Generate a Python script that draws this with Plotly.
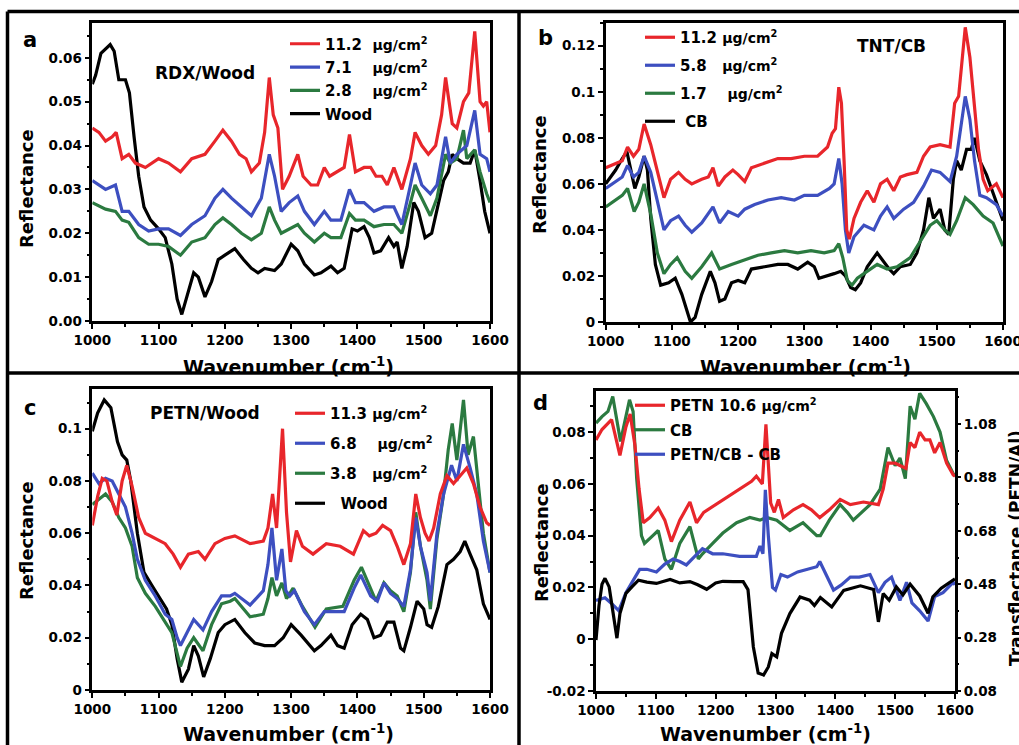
import plotly.graph_objects as go

W, H = 1019, 745

# ---------------- Panel a : RDX/Wood ----------------
a_red_x = [1000,1010,1020,1030,1036,1045,1055,1065,1080,1100,1115,1133,1150,1170,1185,1197,1210,1222,1232,1240,1252,1260,1267,1273,1280,1287,1297,1310,1318,1330,1340,1350,1358,1370,1380,1388,1397,1410,1420,1428,1437,1445,1455,1467,1480,1487,1497,1507,1518,1527,1533,1543,1550,1560,1568,1577,1585,1590,1595,1600]
a_red_y = [0.044,0.043,0.041,0.042,0.043,0.037,0.038,0.036,0.035,0.037,0.036,0.034,0.037,0.038,0.041,0.0435,0.041,0.038,0.037,0.034,0.036,0.043,0.0555,0.047,0.044,0.030,0.033,0.038,0.033,0.031,0.031,0.035,0.033,0.034,0.035,0.0425,0.034,0.035,0.035,0.033,0.033,0.031,0.035,0.030,0.037,0.043,0.040,0.038,0.040,0.047,0.0555,0.045,0.044,0.050,0.052,0.066,0.050,0.049,0.050,0.043]
a_blue_x = [1000,1020,1035,1045,1055,1070,1085,1100,1115,1133,1150,1170,1185,1197,1210,1225,1240,1255,1267,1275,1285,1297,1310,1320,1335,1350,1360,1375,1388,1397,1410,1425,1440,1455,1467,1480,1487,1497,1510,1520,1533,1540,1550,1565,1577,1585,1595,1600]
a_blue_y = [0.032,0.030,0.031,0.025,0.025,0.022,0.0205,0.021,0.021,0.0195,0.022,0.024,0.028,0.030,0.028,0.026,0.024,0.028,0.038,0.033,0.025,0.027,0.0285,0.025,0.022,0.025,0.023,0.023,0.030,0.027,0.027,0.025,0.026,0.026,0.022,0.031,0.036,0.031,0.029,0.031,0.042,0.036,0.038,0.040,0.048,0.038,0.037,0.034]
a_green_x = [1000,1020,1035,1045,1055,1070,1085,1100,1115,1133,1150,1170,1185,1197,1210,1225,1240,1255,1267,1275,1285,1297,1310,1320,1335,1350,1360,1375,1388,1397,1410,1425,1440,1455,1467,1480,1487,1497,1510,1520,1533,1540,1550,1560,1565,1577,1585,1595,1600]
a_green_y = [0.027,0.0255,0.025,0.023,0.0225,0.019,0.0175,0.0175,0.017,0.015,0.018,0.019,0.022,0.0235,0.022,0.020,0.0185,0.020,0.026,0.023,0.020,0.021,0.022,0.020,0.018,0.020,0.019,0.019,0.0245,0.023,0.023,0.0215,0.022,0.022,0.020,0.027,0.031,0.028,0.024,0.028,0.038,0.036,0.037,0.0435,0.037,0.039,0.034,0.029,0.027]
a_black_x = [1000,1005,1013,1020,1027,1033,1040,1050,1056,1063,1070,1078,1088,1100,1110,1120,1128,1135,1142,1153,1160,1170,1180,1190,1200,1215,1228,1240,1250,1260,1275,1285,1300,1310,1320,1335,1345,1360,1370,1380,1392,1400,1410,1418,1425,1435,1447,1455,1460,1467,1475,1485,1492,1502,1512,1520,1530,1537,1543,1550,1560,1570,1577,1585,1592,1600]
a_black_y = [0.054,0.056,0.061,0.062,0.063,0.0615,0.055,0.055,0.052,0.042,0.033,0.026,0.023,0.021,0.019,0.013,0.005,0.0015,0.005,0.011,0.010,0.0055,0.009,0.014,0.015,0.0165,0.014,0.012,0.011,0.012,0.0115,0.013,0.0175,0.016,0.013,0.0105,0.011,0.0125,0.011,0.012,0.021,0.0205,0.0215,0.019,0.0155,0.016,0.019,0.017,0.018,0.012,0.017,0.027,0.025,0.019,0.020,0.025,0.032,0.034,0.038,0.037,0.036,0.036,0.039,0.032,0.025,0.020]

# ---------------- Panel b : TNT/CB ----------------
b_red_x = [1000,1015,1025,1033,1042,1050,1058,1068,1078,1088,1098,1110,1120,1130,1145,1155,1162,1170,1180,1192,1200,1210,1220,1240,1260,1280,1300,1320,1335,1342,1347,1352,1356,1360,1364,1368,1375,1385,1395,1405,1415,1425,1435,1445,1455,1470,1480,1490,1505,1520,1527,1533,1537,1543,1550,1557,1563,1570,1577,1590,1600]
b_red_y = [0.067,0.069,0.070,0.076,0.072,0.075,0.086,0.077,0.065,0.054,0.062,0.065,0.062,0.060,0.062,0.063,0.067,0.059,0.063,0.066,0.064,0.061,0.067,0.069,0.071,0.071,0.072,0.072,0.076,0.082,0.084,0.102,0.095,0.070,0.040,0.036,0.045,0.052,0.057,0.052,0.060,0.062,0.057,0.063,0.064,0.065,0.072,0.076,0.077,0.076,0.095,0.098,0.110,0.128,0.115,0.095,0.075,0.062,0.057,0.060,0.054]
b_blue_x = [1000,1015,1025,1033,1042,1050,1058,1068,1078,1088,1098,1110,1120,1130,1145,1162,1172,1185,1200,1210,1225,1245,1265,1285,1300,1320,1338,1345,1352,1357,1362,1367,1375,1390,1405,1415,1425,1435,1450,1465,1480,1492,1505,1520,1530,1537,1543,1550,1557,1565,1575,1590,1600]
b_blue_y = [0.058,0.061,0.063,0.068,0.063,0.065,0.072,0.065,0.052,0.040,0.044,0.046,0.042,0.039,0.043,0.050,0.043,0.048,0.046,0.049,0.051,0.053,0.054,0.053,0.055,0.055,0.058,0.060,0.071,0.060,0.040,0.030,0.037,0.042,0.040,0.046,0.050,0.045,0.049,0.052,0.059,0.066,0.065,0.061,0.072,0.085,0.098,0.088,0.070,0.055,0.054,0.051,0.046]
b_green_x = [1000,1015,1025,1033,1043,1050,1058,1068,1078,1088,1098,1108,1120,1130,1145,1160,1172,1190,1210,1230,1250,1270,1290,1310,1330,1345,1352,1358,1365,1372,1380,1395,1410,1425,1440,1460,1475,1490,1500,1512,1520,1530,1543,1555,1570,1585,1600]
b_green_y = [0.050,0.053,0.055,0.058,0.048,0.052,0.060,0.047,0.030,0.021,0.025,0.028,0.022,0.019,0.024,0.030,0.023,0.025,0.027,0.029,0.030,0.031,0.030,0.031,0.030,0.031,0.034,0.028,0.018,0.016,0.019,0.022,0.025,0.023,0.024,0.028,0.035,0.042,0.044,0.040,0.038,0.044,0.054,0.051,0.046,0.043,0.033]
b_black_x = [1000,1015,1025,1032,1038,1044,1050,1058,1063,1068,1075,1083,1095,1105,1115,1122,1128,1135,1145,1158,1165,1172,1180,1190,1200,1210,1220,1240,1260,1275,1290,1305,1315,1322,1335,1345,1355,1362,1370,1377,1385,1395,1410,1418,1428,1435,1445,1460,1470,1480,1488,1495,1505,1512,1518,1525,1530,1537,1545,1552,1557,1565,1575,1585,1595,1600]
b_black_y = [0.060,0.066,0.071,0.074,0.066,0.058,0.063,0.072,0.066,0.045,0.025,0.016,0.017,0.019,0.012,0.005,0.000,0.002,0.012,0.022,0.017,0.009,0.010,0.017,0.018,0.017,0.023,0.024,0.025,0.025,0.023,0.026,0.024,0.019,0.020,0.021,0.022,0.020,0.015,0.014,0.017,0.024,0.030,0.027,0.023,0.021,0.024,0.025,0.030,0.040,0.054,0.045,0.049,0.040,0.038,0.062,0.070,0.066,0.075,0.075,0.080,0.070,0.064,0.056,0.048,0.044]

# ---------------- Panel c : PETN/Wood ----------------
c_red_x = [1000,1008,1015,1022,1030,1037,1045,1052,1060,1070,1080,1095,1110,1122,1133,1145,1160,1170,1185,1200,1215,1238,1258,1265,1272,1278,1287,1293,1299,1308,1317,1333,1353,1374,1394,1409,1418,1428,1438,1450,1460,1470,1480,1488,1495,1502,1508,1515,1525,1535,1545,1555,1565,1575,1585,1595,1600]
c_red_y = [0.063,0.074,0.081,0.080,0.072,0.067,0.080,0.086,0.078,0.066,0.060,0.058,0.056,0.052,0.047,0.052,0.053,0.050,0.056,0.058,0.059,0.056,0.057,0.062,0.075,0.062,0.100,0.068,0.049,0.061,0.055,0.052,0.056,0.055,0.052,0.061,0.059,0.060,0.063,0.061,0.055,0.048,0.056,0.075,0.066,0.060,0.057,0.062,0.075,0.082,0.079,0.082,0.085,0.079,0.070,0.064,0.063]
c_blue_x = [1000,1010,1020,1030,1040,1050,1060,1068,1080,1095,1110,1120,1128,1133,1143,1153,1167,1180,1195,1208,1215,1238,1258,1265,1271,1278,1286,1292,1298,1305,1320,1335,1350,1365,1380,1395,1405,1420,1430,1440,1450,1460,1470,1480,1488,1495,1505,1510,1520,1530,1542,1550,1560,1570,1580,1590,1600]
c_blue_y = [0.083,0.079,0.081,0.080,0.075,0.070,0.060,0.050,0.042,0.036,0.029,0.027,0.020,0.017,0.022,0.027,0.023,0.030,0.036,0.036,0.037,0.0325,0.038,0.048,0.062,0.042,0.054,0.038,0.036,0.038,0.030,0.025,0.030,0.030,0.030,0.039,0.044,0.036,0.034,0.041,0.037,0.035,0.032,0.046,0.066,0.055,0.045,0.034,0.060,0.075,0.086,0.080,0.094,0.085,0.075,0.057,0.045]
c_green_x = [1000,1010,1020,1030,1040,1050,1060,1068,1080,1095,1110,1120,1128,1133,1143,1153,1167,1180,1195,1208,1215,1238,1258,1265,1271,1278,1286,1293,1303,1317,1336,1353,1378,1395,1406,1428,1440,1450,1460,1470,1480,1488,1495,1505,1510,1520,1530,1537,1543,1550,1560,1567,1575,1580,1590,1600]
c_green_y = [0.071,0.073,0.075,0.072,0.066,0.062,0.055,0.043,0.037,0.032,0.026,0.022,0.014,0.009,0.016,0.020,0.015,0.025,0.033,0.034,0.035,0.028,0.029,0.035,0.043,0.036,0.041,0.035,0.039,0.032,0.024,0.031,0.032,0.042,0.047,0.034,0.041,0.038,0.036,0.030,0.045,0.068,0.055,0.042,0.031,0.058,0.075,0.092,0.102,0.088,0.111,0.090,0.097,0.085,0.060,0.045]
c_black_x = [1000,1008,1018,1028,1038,1045,1052,1058,1068,1078,1090,1100,1112,1120,1128,1135,1145,1153,1160,1168,1178,1190,1200,1215,1230,1245,1260,1275,1288,1300,1315,1335,1345,1360,1370,1380,1392,1405,1415,1425,1435,1445,1455,1465,1470,1480,1490,1500,1505,1512,1522,1535,1545,1555,1562,1570,1580,1590,1600]
c_black_y = [0.099,0.106,0.111,0.108,0.095,0.090,0.088,0.080,0.060,0.045,0.040,0.036,0.031,0.025,0.012,0.003,0.008,0.017,0.013,0.005,0.012,0.022,0.025,0.027,0.022,0.018,0.017,0.017,0.020,0.025,0.021,0.015,0.017,0.021,0.017,0.016,0.025,0.029,0.027,0.020,0.021,0.026,0.026,0.016,0.015,0.024,0.034,0.031,0.025,0.024,0.032,0.048,0.050,0.053,0.057,0.052,0.046,0.033,0.027]

# ---------------- Panel d : PETN/CB ----------------
d_red_x = [1000,1010,1026,1040,1050,1057,1065,1072,1079,1090,1104,1115,1126,1140,1157,1168,1180,1200,1220,1240,1260,1268,1278,1284,1292,1298,1305,1313,1330,1346,1360,1374,1390,1408,1425,1447,1472,1480,1488,1500,1510,1518,1525,1533,1541,1550,1558,1566,1575,1586,1597,1600]
d_red_y = [0.077,0.081,0.0848,0.071,0.082,0.087,0.075,0.058,0.045,0.047,0.0507,0.046,0.0377,0.046,0.053,0.045,0.049,0.052,0.055,0.058,0.061,0.063,0.060,0.083,0.0526,0.049,0.054,0.047,0.050,0.052,0.050,0.047,0.050,0.054,0.052,0.053,0.052,0.058,0.068,0.068,0.067,0.066,0.076,0.074,0.080,0.077,0.077,0.072,0.076,0.068,0.0635,0.063]
d_green_x = [1000,1010,1020,1028,1041,1056,1062,1068,1076,1081,1095,1104,1115,1126,1140,1157,1171,1178,1195,1212,1235,1257,1274,1285,1302,1324,1346,1369,1375,1390,1408,1420,1430,1445,1458,1475,1488,1500,1508,1517,1525,1533,1541,1552,1564,1575,1586,1597,1600]
d_green_y = [0.0835,0.086,0.088,0.0938,0.0764,0.0925,0.088,0.062,0.040,0.037,0.040,0.042,0.031,0.027,0.037,0.0435,0.031,0.033,0.037,0.041,0.045,0.047,0.046,0.047,0.046,0.042,0.045,0.040,0.040,0.046,0.052,0.049,0.046,0.049,0.052,0.058,0.074,0.067,0.070,0.062,0.090,0.085,0.095,0.091,0.086,0.080,0.069,0.064,0.063]
d_blue_x = [1000,1015,1025,1038,1050,1060,1073,1085,1101,1115,1129,1140,1151,1165,1178,1195,1212,1240,1268,1274,1279,1283,1288,1295,1300,1309,1320,1337,1355,1369,1374,1385,1397,1410,1425,1440,1458,1472,1483,1494,1508,1519,1528,1541,1555,1566,1580,1597,1600]
d_blue_y = [0.015,0.016,0.014,0.011,0.018,0.022,0.027,0.027,0.026,0.029,0.031,0.030,0.0287,0.032,0.035,0.033,0.033,0.032,0.032,0.036,0.033,0.0577,0.040,0.020,0.019,0.025,0.024,0.026,0.027,0.028,0.030,0.025,0.019,0.021,0.024,0.024,0.025,0.018,0.022,0.024,0.015,0.022,0.014,0.011,0.007,0.0165,0.018,0.022,0.021]
# transflectance (PETN/Al), right axis
d_black_x = [1000,1005,1010,1015,1022,1030,1035,1040,1050,1060,1071,1085,1101,1112,1124,1140,1157,1170,1185,1200,1212,1230,1246,1254,1263,1271,1280,1288,1294,1302,1310,1324,1341,1357,1365,1375,1394,1414,1442,1464,1472,1480,1490,1502,1513,1525,1541,1555,1563,1577,1597,1600]
d_black_y = [0.271,0.40,0.48,0.502,0.47,0.36,0.278,0.37,0.446,0.47,0.495,0.488,0.483,0.49,0.498,0.485,0.49,0.478,0.461,0.485,0.491,0.49,0.49,0.46,0.245,0.147,0.14,0.17,0.22,0.208,0.296,0.37,0.432,0.42,0.40,0.43,0.395,0.457,0.474,0.46,0.339,0.445,0.42,0.47,0.44,0.48,0.436,0.371,0.433,0.465,0.495,0.50]

RED, BLUE, GREEN, BLACK = "#e8262b", "#3d4fc0", "#2b7a40", "#000000"
FONT = "DejaVu Sans"

def px(x):
    return x / W

def py(y):
    return 1 - y / H

fig = go.Figure()

def add(xs, ys, color, name, xa, ya, legend, rank, show=True):
    fig.add_trace(go.Scatter(
        x=xs, y=ys, mode="lines", name=name,
        line=dict(color=color, width=3.2),
        xaxis=xa, yaxis=ya, legend=legend, legendrank=rank,
        legendgroup=legend + str(rank), showlegend=show,
    ))

ug = "<span style='font-size:14px'>\u00b5g/cm<sup>2</sup></span>"
nb = "\u00a0"

# panel a
add(a_black_x, a_black_y, BLACK, "Wood", "x", "y", "legend", 4)
add(a_green_x, a_green_y, GREEN, "2.8" + nb * 4 + ug, "x", "y", "legend", 3)
add(a_blue_x, a_blue_y, BLUE, "7.1" + nb * 4 + ug, "x", "y", "legend", 2)
add(a_red_x, a_red_y, RED, "11.2" + nb * 2 + ug, "x", "y", "legend", 1)
# panel b
add(b_black_x, b_black_y, BLACK, nb + "CB", "x2", "y2", "legend2", 4)
add(b_green_x, b_green_y, GREEN, "1.7" + nb * 4 + ug, "x2", "y2", "legend2", 3)
add(b_blue_x, b_blue_y, BLUE, "5.8" + nb * 3 + ug, "x2", "y2", "legend2", 2)
add(b_red_x, b_red_y, RED, "11.2" + nb + ug, "x2", "y2", "legend2", 1)
# panel c
add(c_black_x, c_black_y, BLACK, nb * 2 + "Wood", "x3", "y3", "legend3", 4)
add(c_green_x, c_green_y, GREEN, "3.8" + nb * 3 + ug, "x3", "y3", "legend3", 3)
add(c_blue_x, c_blue_y, BLUE, "6.8" + nb * 4 + ug, "x3", "y3", "legend3", 2)
add(c_red_x, c_red_y, RED, "11.3" + nb + ug, "x3", "y3", "legend3", 1)
# panel d
add(d_black_x, d_black_y, BLACK, "PETN/Al", "x4", "y5", "legend4", 4, show=False)
add(d_green_x, d_green_y, GREEN, "CB", "x4", "y4", "legend4", 2)
add(d_red_x, d_red_y, RED, "PETN 10.6 " + ug, "x4", "y4", "legend4", 1)
add(d_blue_x, d_blue_y, BLUE, "PETN/CB - CB", "x4", "y4", "legend4", 3)

tickfont = dict(family=FONT, size=13.5, color="black", weight="bold")

def xaxis(domain, anchor):
    return dict(domain=domain, anchor=anchor, range=[1000, 1600],
                tickvals=list(range(1000, 1601, 100)), ticks="outside",
                ticklen=5, tickwidth=2, tickcolor="black", ticklabeloverflow="allow",
                showline=True, mirror=True, linecolor="black", linewidth=2.5,
                showgrid=False, zeroline=False, tickfont=tickfont,
                minor=dict(ticks="outside", ticklen=3, tickwidth=1.5,
                           tickcolor="black", dtick=50, tick0=1000, showgrid=False))

def yaxis(domain, anchor, rng, vals, text, minor_dtick, **kw):
    d = dict(domain=domain, anchor=anchor, range=rng, tickvals=vals, ticktext=text,
             ticks="outside", ticklen=5, tickwidth=2, tickcolor="black",
             showline=True, mirror=True, linecolor="black", linewidth=2.5,
             showgrid=False, zeroline=False, tickfont=tickfont,
             minor=dict(ticks="outside", ticklen=3, tickwidth=1.5, tickcolor="black",
                        dtick=minor_dtick, tick0=0, showgrid=False))
    d.update(kw)
    return d

xa = [px(92.3), px(490)]
xb = [px(605.7), px(1003)]
xd = [px(596), px(955)]
ya = [py(321), py(22.7)]
yb = [py(322), py(22.7)]
yc = [py(690), py(389)]
yd = [py(691), py(390.7)]

a_ticks = [0, 0.01, 0.02, 0.03, 0.04, 0.05, 0.06]
a_text = ["0.00", "0.01", "0.02", "0.03", "0.04", "0.05", "0.06"]
b_ticks = [0, 0.02, 0.04, 0.06, 0.08, 0.1, 0.12]
b_text = ["0", "0.02", "0.04", "0.06", "0.08", "0.1", "0.12"]
c_ticks = [0, 0.02, 0.04, 0.06, 0.08, 0.1]
c_text = ["0", "0.02", "0.04", "0.06", "0.08", "0.1"]
d_ticks = [-0.02, 0, 0.02, 0.04, 0.06, 0.08]
d_text = ["-0.02", "0", "0.02", "0.04", "0.06", "0.08"]
d2_ticks = [0.08, 0.28, 0.48, 0.68, 0.88, 1.08]
d2_text = ["0.08", "0.28", "0.48", "0.68", "0.88", "1.08"]

fig.update_layout(
    width=W, height=H, margin=dict(l=0, r=0, t=0, b=0, autoexpand=False),
    paper_bgcolor="white", plot_bgcolor="white",
    xaxis=xaxis(xa, "y"), yaxis=yaxis(ya, "x", [0, 0.068], a_ticks, a_text, 0.005),
    xaxis2=xaxis(xb, "y2"), yaxis2=yaxis(yb, "x2", [0, 0.13], b_ticks, b_text, 0.01),
    xaxis3=xaxis(xa, "y3"), yaxis3=yaxis(yc, "x3", [0, 0.1152], c_ticks, c_text, 0.01),
    xaxis4=xaxis(xd, "y4"), yaxis4=yaxis(yd, "x4", [-0.02, 0.096], d_ticks, d_text, 0.01),
    yaxis5=dict(overlaying="y4", anchor="x4", side="right", range=[0.08, 1.205],
                tickvals=d2_ticks, ticktext=d2_text, ticks="outside", ticklen=5,
                tickwidth=2, tickcolor="black", showline=False, showgrid=False,
                zeroline=False, tickfont=tickfont,
                minor=dict(ticks="outside", ticklen=3, tickwidth=1.5, tickcolor="black",
                           dtick=0.1, tick0=0.08, showgrid=False)),
    showlegend=True,
)

def legend(x, y, gap):
    return dict(x=px(x), y=py(y), xanchor="left", yanchor="top",
                bgcolor="rgba(0,0,0,0)", borderwidth=0, itemwidth=30,
                tracegroupgap=gap, traceorder="grouped",
                font=dict(family=FONT, size=15, color="black", weight="bold"))

fig.update_layout(
    legend=legend(285, 27.5, 0.8),
    legend2=legend(640, 21, 5.5),
    legend3=legend(290, 397, 7.5),
    legend4=legend(630, 389, 2),
)

anns = []
def ann(text, x, y, size, angle=0):
    anns.append(dict(text=text, x=px(x), y=py(y), xref="paper", yref="paper",
                     showarrow=False, textangle=angle, xanchor="center", yanchor="middle",
                     font=dict(family=FONT, size=size, color="black", weight="bold")))

ann("a", 30, 40, 21)
ann("b", 545, 38, 21)
ann("c", 30, 408, 21)
ann("d", 540, 403, 21)
ann("RDX/Wood", 205, 73, 17)
ann("TNT/CB", 891, 46, 17)
ann("PETN/Wood", 205, 413, 17)
for (x, y) in [(26, 189), (539, 175), (26, 541), (541, 543)]:
    ann("Reflectance", x, y, 18, -90)
for (x, y) in [(288, 366), (805, 366), (288, 733), (765, 733)]:
    ann("Wavenumber (cm<sup>-1</sup>)", x, y, 19)
ann("Transflectance (PETN/Al)", 1016, 548, 17, -90)
fig.update_layout(annotations=anns)

lw = 3.5
fig.update_layout(shapes=[
    dict(type="line", xref="paper", yref="paper", x0=px(7.5), x1=px(1030), y0=py(11.5), y1=py(11.5), line=dict(color="black", width=lw)),
    dict(type="line", xref="paper", yref="paper", x0=px(7.5), x1=px(7.5), y0=py(11.5), y1=py(760), line=dict(color="black", width=lw)),
    dict(type="line", xref="paper", yref="paper", x0=px(519), x1=px(519), y0=py(11.5), y1=py(760), line=dict(color="black", width=lw)),
    dict(type="line", xref="paper", yref="paper", x0=px(7.5), x1=px(1030), y0=py(373), y1=py(373), line=dict(color="black", width=lw)),
])

fig.write_html("out.html")
